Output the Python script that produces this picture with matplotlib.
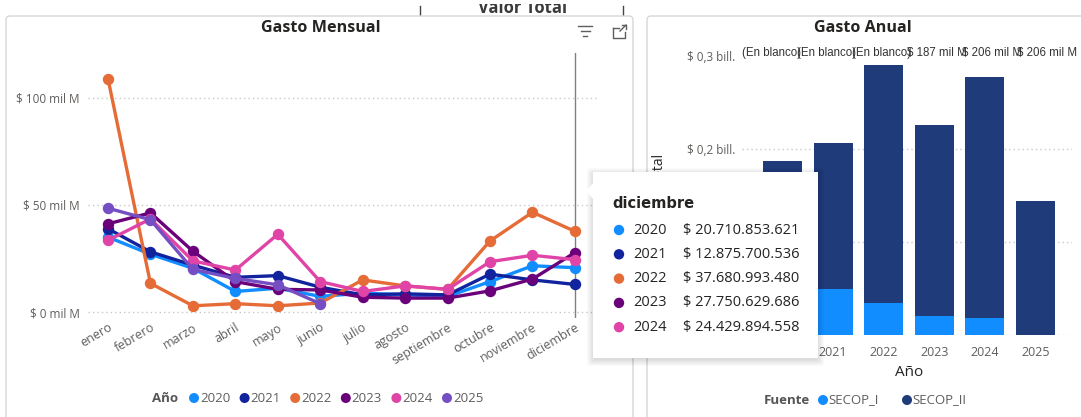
import numpy as np
import matplotlib
matplotlib.use("Agg")
import matplotlib.pyplot as plt
from matplotlib.patches import Rectangle, FancyBboxPatch, Polygon, Circle

# ---------------------------------------------------------------- data
meses = ["enero", "febrero", "marzo", "abril", "mayo", "junio", "julio",
         "agosto", "septiembre", "octubre", "noviembre", "diciembre"]
anios = ["2020", "2021", "2022", "2023", "2024", "2025"]
nan = np.nan
# monthly spending, thousands of millions of pesos (mil M)
gasto_2020 = [35.0, 27.0, 20.4, 9.6, 11.1, 7.3, 8.8, 8.0, 7.3, 14.2, 21.6, 20.710853621]
gasto_2021 = [38.9, 28.1, 21.9, 16.2, 17.0, 11.6, 8.0, 8.5, 8.0, 17.7, 15.0, 12.875700536]
gasto_2022 = [109.0, 13.4, 2.9, 3.9, 2.9, 4.2, 15.0, 12.2, 10.6, 33.2, 46.6, 37.680993480]
gasto_2023 = [41.2, 46.3, 28.4, 14.2, 10.6, 10.3, 6.9, 6.5, 6.5, 9.9, 15.4, 27.750629686]
gasto_2024 = [33.5, 43.5, 23.9, 19.6, 36.3, 14.2, 9.6, 12.2, 10.6, 23.5, 26.5, 24.429894558]
gasto_2025 = [48.5, 43.1, 19.9, 15.7, 12.7, 3.9, nan, nan, nan, nan, nan, nan]
colores_anio = ["#118DFF", "#12239E", "#E66C37", "#6B007B", "#E044A7", "#744EC2"]

# yearly spending by source, billones de pesos
anual_anios = ["2020", "2021", "2022", "2023", "2024", "2025"]
secop_i = [0.050, 0.049, 0.034, 0.020, 0.018, 0.0]
secop_ii = [0.137, 0.158, 0.256, 0.206, 0.260, 0.144]
fuentes = ["SECOP_I", "SECOP_II"]
colores_fuente = ["#118DFF", "#1F3B7A"]
etiquetas_total = ["(En blanco)", "(En blanco)", "(En blanco)",
                   "$ 187 mil M", "$ 206 mil M", "$ 206 mil M"]

series = [gasto_2020, gasto_2021, gasto_2022, gasto_2023, gasto_2024, gasto_2025]

# ---------------------------------------------------------------- figure
W, H = 1081, 417
plt.rcParams["font.family"] = ["Open Sans", "DejaVu Sans"]
fig = plt.figure(figsize=(W / 100, H / 100), dpi=100)
fig.patch.set_facecolor("white")

GRAY = "#605E5C"
DARK = "#252423"


def rect(l, t, r, b):
    return [l / W, 1 - b / H, (r - l) / W, (b - t) / H]


def overlay(z):
    a = fig.add_axes([0, 0, 1, 1], zorder=z)
    a.set_xlim(0, W)
    a.set_ylim(H, 0)
    a.axis("off")
    a.patch.set_visible(False)
    return a


bg = overlay(0)
# header of the visual above, cut by its container
bg.text(523, 17, "Valor Total", ha="center", va="bottom", fontsize=12,
        fontweight="bold", color="#3a3a3a")
bg.add_patch(Rectangle((430, -2), 185, 5.5, fc="white", ec="none", zorder=5))
bg.plot([420, 420], [6, 15], color="#444", lw=1)
bg.plot([623, 623], [6, 15], color="#444", lw=1)

# panel frames
for (l, t, r, b) in [(6, 16, 633, 425), (647, 16, 1090, 425)]:
    bg.add_patch(FancyBboxPatch((l, t), r - l, b - t,
                                boxstyle="round,pad=0,rounding_size=4",
                                fc="white", ec="#D6D6D6", lw=1.0, zorder=6))

# titles
bg.text(321, 28, "Gasto Mensual", ha="center", va="center", fontsize=11.6,
        fontweight="bold", color=DARK, zorder=7)
bg.text(863, 28, "Gasto Anual", ha="center", va="center", fontsize=11.6,
        fontweight="bold", color=DARK, zorder=7)

# filter / focus icons
kw = dict(color=GRAY, lw=1, zorder=7)
bg.plot([578, 592], [26, 26], **kw)
bg.plot([580.5, 589.5], [31, 31], **kw)
bg.plot([583, 587], [36, 36], **kw)
bg.plot([613, 613, 625, 625], [28, 38, 38, 32], **kw)
bg.plot([613, 619], [28, 28], **kw)
bg.plot([620, 626], [31, 25], **kw)
bg.plot([622, 626, 626], [25, 25, 29], **kw)

# ---------------------------------------------------------------- Gasto Mensual
ax = fig.add_axes(rect(88, 53, 598, 318), zorder=1)
ax.patch.set_visible(False)
x = np.arange(len(meses))
for vals, col in zip(series, colores_anio):
    ax.plot(x, vals, color=col, lw=2.4, marker="o", ms=7.2, mec=col,
            solid_joinstyle="round", solid_capstyle="round")
ax.set_xlim(-0.471, 11.543)
ax.set_ylim(-2.8, 121.0)
ax.set_yticks([0, 50, 100])
ax.set_yticklabels([f"$ {v} mil M" for v in [0, 50, 100]], fontsize=8.5, color=GRAY)
ax.set_xticks(x)
ax.set_xticklabels(meses, rotation=31, ha="right", va="top",
                   rotation_mode="anchor", fontsize=9, color=GRAY)
ax.tick_params(length=0, pad=6)
ax.tick_params(axis="x", pad=2)
for s in ax.spines.values():
    s.set_visible(False)
ax.yaxis.grid(True, linestyle=(0, (1, 2.2)), color="#C8C8C8", lw=1)
ax.set_axisbelow(True)
ax.axvline(11, color="#808080", lw=1, zorder=0.5)

# legend (Año)
lg = overlay(2)
lg.text(165, 398, "Año", ha="center", va="center", fontsize=9.5,
        fontweight="bold", color="#555")
for i, (a, col) in enumerate(zip(anios, colores_anio)):
    cx = 194 + i * 50.6
    lg.add_patch(Circle((cx, 398), 5.0, fc=col, ec="none"))
    lg.text(cx + 6, 398, a, ha="left", va="center", fontsize=9.5, color=GRAY)

# ---------------------------------------------------------------- Gasto Anual
ax2 = fig.add_axes(rect(742, 50, 1072, 335), zorder=1)
ax2.patch.set_visible(False)
xb = np.arange(len(anual_anios))
ax2.bar(xb, secop_i, width=0.77, color=colores_fuente[0])
ax2.bar(xb, secop_ii, width=0.77, bottom=secop_i, color=colores_fuente[1])
ax2.set_xlim(-0.80, 5.72)
ax2.set_ylim(0, 0.3065)
ax2.set_yticks([0, 0.1, 0.2, 0.3])
# the two lower tick labels sit under the tooltip
ax2.set_yticklabels(["", "", "$ 0,2 bill.", "$ 0,3 bill."],
                    fontsize=8.5, color=GRAY)
ax2.set_xticks(xb)
ax2.set_xticklabels(anual_anios, fontsize=9, color=GRAY)
ax2.tick_params(length=0)
ax2.tick_params(axis="y", pad=5)
ax2.tick_params(axis="x", pad=8)
for s in ax2.spines.values():
    s.set_visible(False)
ax2.yaxis.grid(True, linestyle=(0, (1, 2.2)), color="#C8C8C8", lw=1)
ax2.get_ygridlines()[-1].set_visible(False)
ax2.set_axisbelow(True)
ax2.set_ylabel("Valor Total", fontsize=10, color=DARK)
ax2.yaxis.set_label_coords(-0.226, 0.515)

lg.text(909, 373, "Año", ha="center", va="center", fontsize=11, color=DARK)
for i, lab in enumerate(etiquetas_total):
    lg.text(742 + i * 55.0, 53, lab, ha="left", va="center", fontsize=8.3,
            family="Liberation Sans", color="#333333")

# legend (Fuente)
lg.text(787, 400, "Fuente", ha="center", va="center", fontsize=9.5,
        fontweight="bold", color="#555")
for cx, lab, col in zip([823, 907], fuentes, colores_fuente):
    lg.add_patch(Circle((cx, 400), 5.0, fc=col, ec="none"))
    lg.text(cx + 5, 400, lab, ha="left", va="center", fontsize=9.5, color=GRAY)

# ---------------------------------------------------------------- tooltip
tip = overlay(20)
tl, tt, tr, tb = 593, 172, 818, 358
for k in range(1, 8):
    tip.add_patch(FancyBboxPatch((tl - k + 1, tt - k + 3), tr - tl + 2 * k - 2, tb - tt + 2 * k - 2,
                                 boxstyle="round,pad=0,rounding_size=3",
                                 fc="black", ec="none", alpha=0.018))
tip.add_patch(Rectangle((tl, tt), tr - tl, tb - tt, fc="white", ec="none"))
tip.add_patch(Polygon([(tl + 1, 182), (tl - 7, 191), (tl + 1, 200)], closed=True,
                      fc="white", ec="none"))
tip.text(612, 203, meses[11], ha="left", va="center", fontsize=10.5,
         fontweight="bold", family="DejaVu Sans", color=DARK)
for i in range(5):
    yy = 230 + i * 24.3
    val = int(round(series[i][11] * 1e9))
    txt = "$ " + f"{val:,}".replace(",", ".")
    tip.add_patch(Circle((619, yy), 5.2, fc=colores_anio[i], ec="none"))
    tip.text(633, yy, anios[i], ha="left", va="center", fontsize=10.5, color=DARK)
    tip.text(683, yy, txt, ha="left", va="center", fontsize=10.5, color=DARK)

fig.savefig("out.png", dpi=100)
